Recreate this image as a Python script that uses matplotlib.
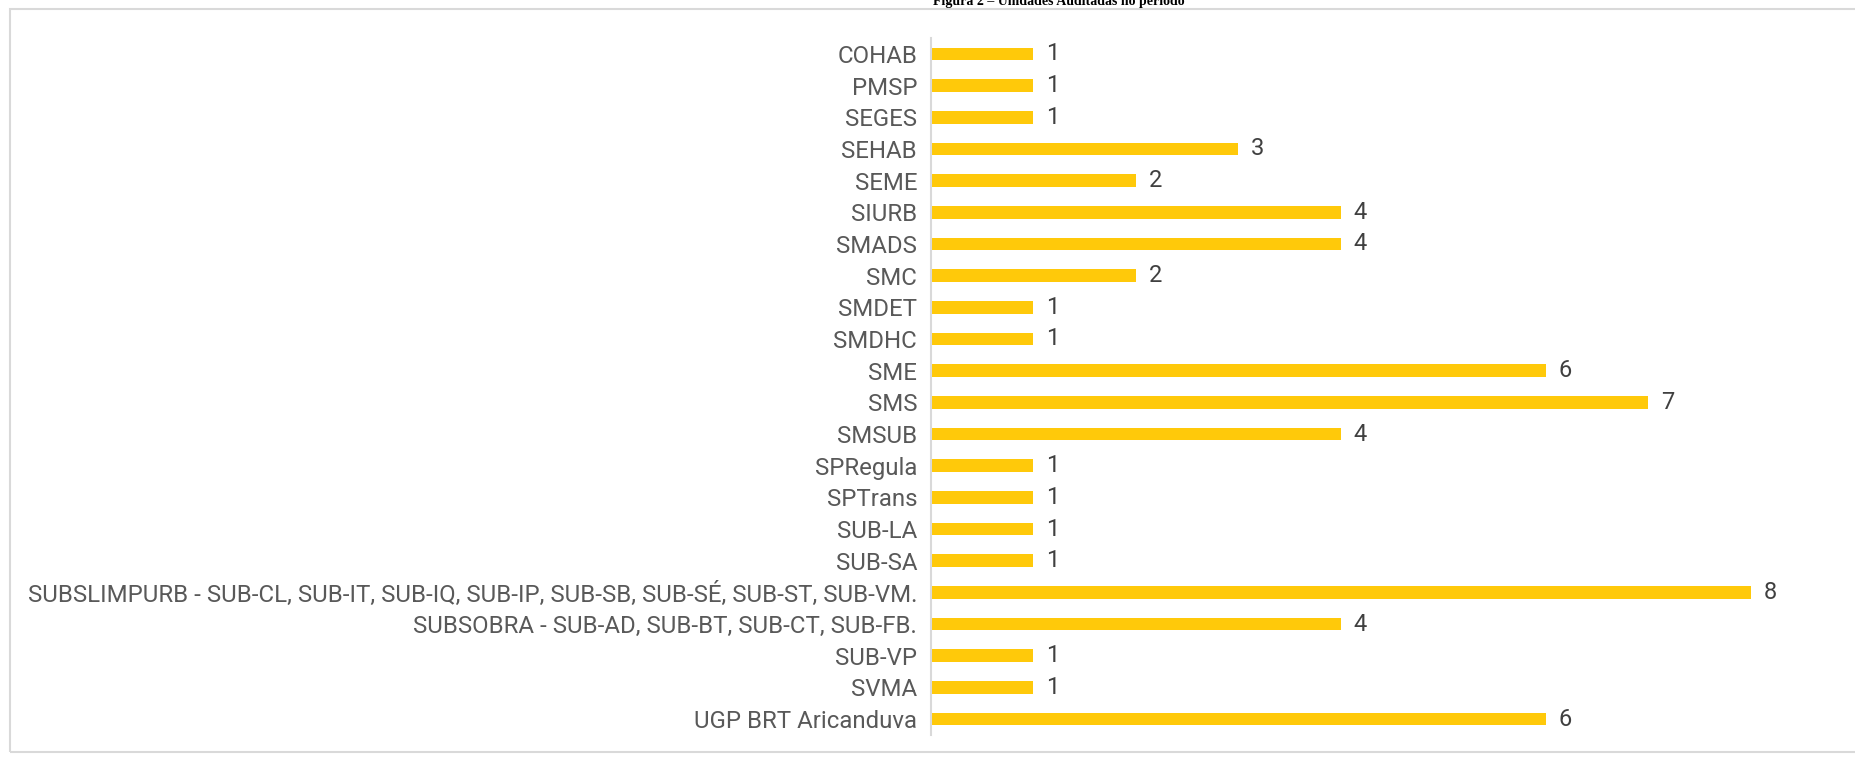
import matplotlib.pyplot as plt
from matplotlib.patches import Rectangle

# Data
unidades = ["COHAB", "PMSP", "SEGES", "SEHAB", "SEME", "SIURB", "SMADS", "SMC",
            "SMDET", "SMDHC", "SME", "SMS", "SMSUB", "SPRegula", "SPTrans",
            "SUB-LA", "SUB-SA",
            "SUBSLIMPURB - SUB-CL, SUB-IT, SUB-IQ, SUB-IP, SUB-SB, SUB-SÉ, SUB-ST, SUB-VM.",
            "SUBSOBRA - SUB-AD, SUB-BT, SUB-CT, SUB-FB.",
            "SUB-VP", "SVMA", "UGP BRT Aricanduva"]
auditorias = [1, 1, 1, 3, 2, 4, 4, 2, 1, 1, 6, 7, 4, 1, 1, 1, 1, 8, 4, 1, 1, 6]
titulo = "Figura 2 – Unidades Auditadas no período"

font = ["Roboto", "DejaVu Sans"]
cor_barra = "#FFC90A"
cor_texto = "#595959"

fig = plt.figure(figsize=(18.56, 7.58), dpi=100)

# light frame around the chart (left, top and bottom edges)
fig.patches.append(Rectangle((10/1856, 6/758), 2.0, 1 - 15/758, transform=fig.transFigure,
                             fill=False, edgecolor="#D9D9D9", linewidth=1.5))

fig.text(1059/1856, 1 - 1/758, titulo, ha="center", va="center",
         family="Liberation Serif", weight="bold", fontsize=10, color="black")

ax = fig.add_axes([931/1856, 23/758, 0.497, 697/758])
y = list(range(len(unidades)))
ax.barh(y, auditorias, height=0.4, color=cor_barra)
ax.set_ylim(len(unidades) - 0.5, -0.5)
ax.set_xlim(0, 9)

ax.set_yticks(y)
ax.set_yticklabels(unidades, family=font, fontsize=17.3, color=cor_texto)
ax.tick_params(axis="y", length=0, pad=10)
ax.set_xticks([])
for s in ["top", "right", "bottom"]:
    ax.spines[s].set_visible(False)
ax.spines["left"].set_color("#D9D9D9")
ax.spines["left"].set_linewidth(1.5)

for yi, v in zip(y, auditorias):
    ax.annotate(str(v), (v, yi), xytext=(9, 0), textcoords="offset points",
                va="center", ha="left", family=font, fontsize=17, color="#404040")

fig.savefig("out.png", dpi=100)
